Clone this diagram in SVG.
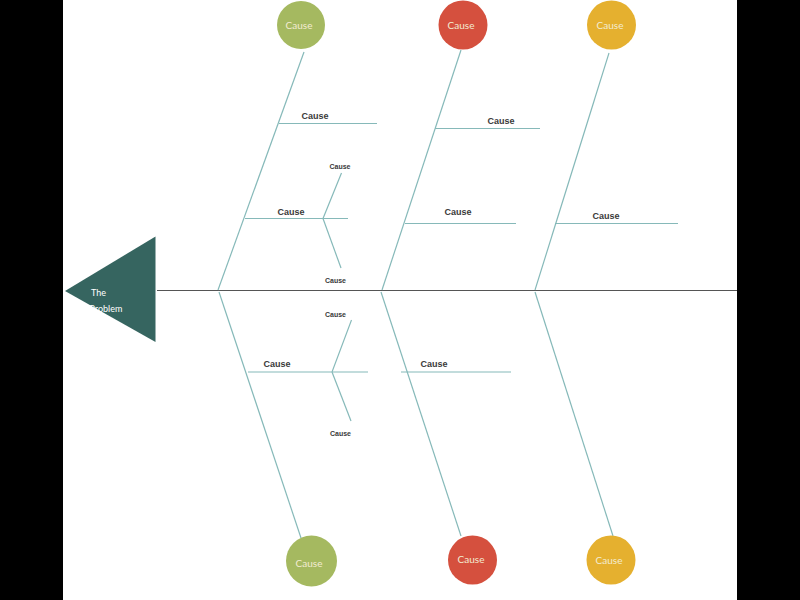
<svg xmlns="http://www.w3.org/2000/svg" width="800" height="600" viewBox="0 0 800 600">
<style>
.bone{stroke:#86b9b9;stroke-width:1.2;fill:none}
.spine{stroke:#555;stroke-width:1.2}
.lbl{font-family:"Liberation Sans",Arial,sans-serif;font-weight:bold;font-size:9px;fill:#3a3a3a;text-anchor:middle}
.sm{font-size:7px}
.ct{font-family:Lato,"Open Sans",sans-serif;font-size:10px;fill:#f3ecd2;text-anchor:middle}
.pt{font-family:Lato,"Open Sans",sans-serif;font-size:9px;fill:#ffffff}
</style>
<rect x="0" y="0" width="800" height="600" fill="#ffffff"/>
<rect x="0" y="0" width="63" height="600" fill="#000"/>
<rect x="737" y="0" width="63" height="600" fill="#000"/>

<g id="connectors">
  <line class="spine" x1="157" y1="290.5" x2="737" y2="290.5"/>
  <!-- bone 1 -->
  <line class="bone" x1="304" y1="52" x2="218" y2="290"/>
  <line class="bone" x1="219" y1="292" x2="301" y2="538"/>
  <line class="bone" x1="279" y1="123.5" x2="377" y2="123.5"/>
  <line class="bone" x1="245" y1="218.5" x2="348" y2="218.5"/>
  <line class="bone" x1="341.5" y1="173" x2="323" y2="218.5"/>
  <line class="bone" x1="323" y1="218.5" x2="341" y2="268"/>
  <line class="bone" x1="248" y1="372" x2="368" y2="372"/>
  <line class="bone" x1="351.5" y1="320" x2="332" y2="372"/>
  <line class="bone" x1="332" y1="372" x2="351" y2="421"/>
  <!-- bone 2 -->
  <line class="bone" x1="461" y1="50" x2="382" y2="290"/>
  <line class="bone" x1="381" y1="292" x2="461" y2="536"/>
  <line class="bone" x1="435" y1="128.5" x2="540" y2="128.5"/>
  <line class="bone" x1="405" y1="223.5" x2="516" y2="223.5"/>
  <line class="bone" x1="401" y1="372" x2="511" y2="372"/>
  <!-- bone 3 -->
  <line class="bone" x1="609" y1="53" x2="535" y2="290"/>
  <line class="bone" x1="535" y1="292" x2="613" y2="536"/>
  <line class="bone" x1="555" y1="223.5" x2="678" y2="223.5"/>
</g>

<g id="labels">
  <text class="lbl" x="315" y="119">Cause</text>
  <text class="lbl" x="291" y="214.5">Cause</text>
  <text class="lbl sm" x="340" y="168.5">Cause</text>
  <text class="lbl sm" x="335.5" y="283">Cause</text>
  <text class="lbl sm" x="335.5" y="316.5">Cause</text>
  <text class="lbl sm" x="340.5" y="435.5">Cause</text>
  <text class="lbl" x="277" y="367">Cause</text>
  <text class="lbl" x="501" y="123.5">Cause</text>
  <text class="lbl" x="458" y="214.5">Cause</text>
  <text class="lbl" x="434" y="367">Cause</text>
  <text class="lbl" x="606" y="219">Cause</text>
</g>

<g id="problem">
  <polygon points="65,291 155.5,236.5 155.5,342" fill="#366560"/>
  <text class="pt" x="91" y="295.5">The</text>
  <text class="pt" x="89.5" y="311.5">Problem</text>
</g>

<g id="cause-top-1"><circle cx="301" cy="25" r="24" fill="#a5b960"/><text class="ct" x="299" y="28.5">Cause</text></g>
<g id="cause-top-2"><circle cx="463" cy="25" r="24.5" fill="#d5503e"/><text class="ct" x="461" y="28.5">Cause</text></g>
<g id="cause-top-3"><circle cx="611.5" cy="25" r="24.5" fill="#e5b02f"/><text class="ct" x="610" y="28.5">Cause</text></g>
<g id="cause-bottom-1"><circle cx="311.5" cy="561" r="25.5" fill="#a5b960"/><text class="ct" x="309" y="567">Cause</text></g>
<g id="cause-bottom-2"><circle cx="472.5" cy="560" r="24.5" fill="#d5503e"/><text class="ct" x="471" y="563">Cause</text></g>
<g id="cause-bottom-3"><circle cx="611" cy="560" r="24.5" fill="#e5b02f"/><text class="ct" x="609" y="563.5">Cause</text></g>
</svg>
